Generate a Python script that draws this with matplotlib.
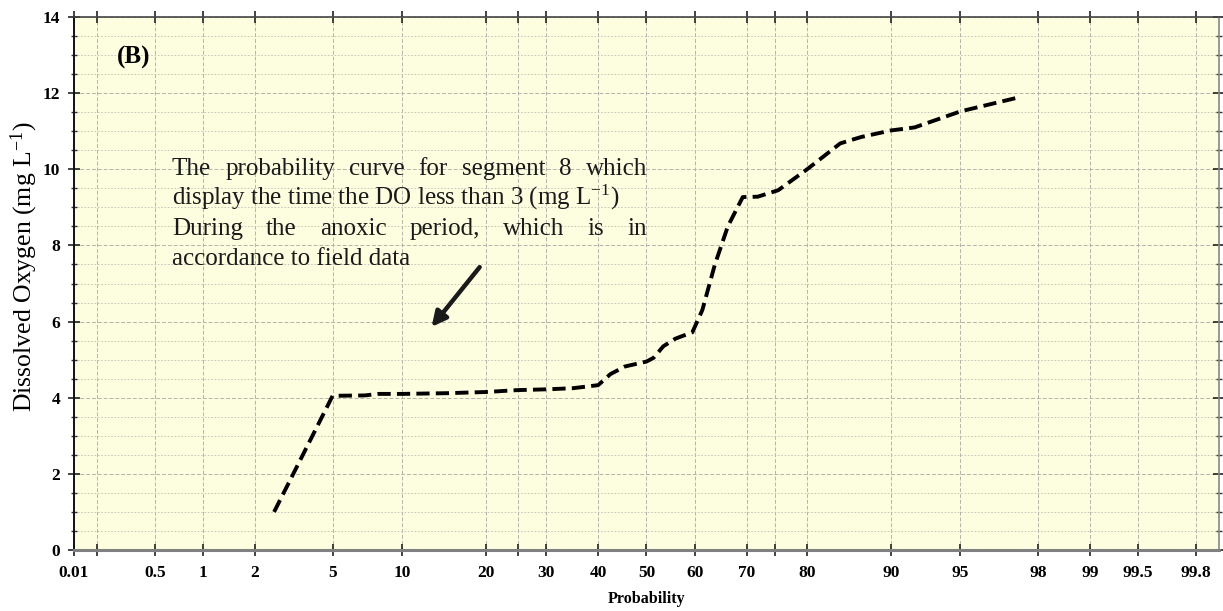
import math
import numpy as np
import matplotlib
matplotlib.use("Agg")
import matplotlib.pyplot as plt
from matplotlib.ticker import FixedLocator, FixedFormatter, MultipleLocator, NullFormatter

# ---------------- data ----------------
prob_pct = [2.55, 5.0, 7.0, 8.0, 10.0, 15.0, 20.0, 25.0, 30.0, 35.0, 40.0,
            42.5, 45.5, 50.0, 51.5, 53.5, 56.0, 59.5, 61.5, 64.0, 66.5, 69.3,
            72.0, 75.5, 80.0, 84.5, 87.0, 90.0, 92.0, 95.0, 97.4]
do_mgL = [1.0, 4.05, 4.06, 4.1, 4.1, 4.12, 4.15, 4.2, 4.22, 4.25, 4.33,
          4.62, 4.82, 4.95, 5.05, 5.35, 5.55, 5.72, 6.3, 7.5, 8.5, 9.27,
          9.28, 9.45, 10.0, 10.68, 10.85, 11.02, 11.1, 11.52, 11.88]

x_tick_pos = [0.13499, 0.2, 0.5, 1, 2, 5, 10, 20, 25, 30, 40, 50, 60, 70, 75,
              80, 90, 95, 98, 99, 99.5, 99.8]
x_tick_labels = ["0.01", "", "0.5", "1", "2", "5", "10", "20", "", "30", "40",
                 "50", "60", "70", "", "80", "90", "95", "98", "99", "99.5", "99.8"]
y_ticks = [0, 2, 4, 6, 8, 10, 12, 14]

note_lines = [
    ("The probability curve for segment 8 which", True),
    ("display the time the DO less than 3 (mg L$^{-1}$)", False),
    ("During the anoxic period, which is in", True),
    ("accordance to field data", False),
]

# ---------------- normal probability scale ----------------
_a = [-3.969683028665376e+01, 2.209460984245205e+02, -2.759285104469687e+02,
      1.383577518672690e+02, -3.066479806614716e+01, 2.506628277459239e+00]
_b = [-5.447609879822406e+01, 1.615858368580409e+02, -1.556989798598866e+02,
      6.680131188771972e+01, -1.328068155288572e+01]
_c = [-7.784894002430293e-03, -3.223964580411365e-01, -2.400758277161838e+00,
      -2.549732539343734e+00, 4.374664141464968e+00, 2.938163982698783e+00]
_d = [7.784695709041462e-03, 3.224671290700398e-01, 2.445134137142996e+00,
      3.754408661907416e+00]


def _ppf1(p):
    p = min(max(p, 1e-12), 1 - 1e-12)
    plow = 0.02425
    if p < plow:
        q = math.sqrt(-2 * math.log(p))
        return (((((_c[0]*q+_c[1])*q+_c[2])*q+_c[3])*q+_c[4])*q+_c[5]) / \
               ((((_d[0]*q+_d[1])*q+_d[2])*q+_d[3])*q+1)
    if p > 1 - plow:
        q = math.sqrt(-2 * math.log(1 - p))
        return -(((((_c[0]*q+_c[1])*q+_c[2])*q+_c[3])*q+_c[4])*q+_c[5]) / \
                ((((_d[0]*q+_d[1])*q+_d[2])*q+_d[3])*q+1)
    q = p - 0.5
    r = q * q
    return (((((_a[0]*r+_a[1])*r+_a[2])*r+_a[3])*r+_a[4])*r+_a[5])*q / \
           (((((_b[0]*r+_b[1])*r+_b[2])*r+_b[3])*r+_b[4])*r+1)


_ppf_v = np.vectorize(_ppf1, otypes=[float])
_erf_v = np.vectorize(math.erf, otypes=[float])


def forward(pct):
    return _ppf_v(np.asarray(pct, dtype=float) / 100.0)


def inverse(z):
    return 50.0 * (1.0 + _erf_v(np.asarray(z, dtype=float) / math.sqrt(2.0)))


# ---------------- style ----------------
plt.rcParams["font.family"] = ["Liberation Serif", "DejaVu Serif"]
plt.rcParams["mathtext.fontset"] = "custom"
plt.rcParams["mathtext.rm"] = "Liberation Serif"
plt.rcParams["mathtext.it"] = "Liberation Serif:italic"
plt.rcParams["mathtext.bf"] = "Liberation Serif:bold"

W, H = 1223, 611
fig = plt.figure(figsize=(W / 100, H / 100), dpi=100)
ax_l, ax_r, ax_t, ax_b = 74, 1219, 17, 550
ax = fig.add_axes([ax_l / W, 1 - ax_b / H, (ax_r - ax_l) / W, (ax_b - ax_t) / H])
ax.set_facecolor("#fdfde0")

ax.set_xscale("function", functions=(forward, inverse))
ax.set_xlim(inverse(-3.0), inverse(3.0))
ax.set_ylim(0, 14)

ax.xaxis.set_major_locator(FixedLocator(x_tick_pos))
ax.xaxis.set_major_formatter(FixedFormatter(x_tick_labels))
ax.xaxis.set_minor_locator(FixedLocator([]))
ax.yaxis.set_major_locator(FixedLocator(y_ticks))
ax.yaxis.set_minor_locator(MultipleLocator(0.5))
ax.yaxis.set_minor_formatter(NullFormatter())

ax.grid(True, which="major", axis="x", color="#b4b4aa", lw=0.7,
        linestyle=(0, (4, 2)))
ax.grid(True, which="major", axis="y", color="#b4b4aa", lw=0.7,
        linestyle=(0, (4, 2)))
ax.grid(True, which="minor", axis="y", color="#c0c0b6", lw=0.6,
        linestyle=(0, (2, 2)))
ax.set_axisbelow(True)

for lab in ax.get_xticklabels() + ax.get_yticklabels():
    lab.set_fontweight("bold")
ax.tick_params(axis="both", which="major", direction="inout", length=8,
               width=1.2, labelsize=12.5, color="#222222")
ax.tick_params(axis="x", which="major", pad=7, top=True)
ax.tick_params(axis="y", which="major", pad=6, right=True)
ax.tick_params(axis="y", which="minor", direction="inout", length=5,
               width=1.0, right=True, color="#333333")

ax.spines["left"].set_color("#111111")
ax.spines["left"].set_linewidth(1.4)
ax.spines["bottom"].set_color("#808080")
ax.spines["bottom"].set_linewidth(2.2)
ax.spines["top"].set_color("#444444")
ax.spines["top"].set_linewidth(1.2)
ax.spines["right"].set_color("#888888")
ax.spines["right"].set_linewidth(1.2)

# ---------------- curve ----------------
ax.plot(prob_pct, do_mgL, color="black", lw=2.8,
        linestyle=(0, (3.4, 1.6)), solid_capstyle="butt")

# ---------------- labels ----------------
ax.set_xlabel("Probability", fontsize=11.5, fontweight="bold", labelpad=7)
fig.text(24 / W, 1 - 267 / H, "Dissolved Oxygen (mg L$^{-1}$)", rotation=90,
         ha="center", va="center", fontsize=18.5)

ax.text((117 - ax_l) / (ax_r - ax_l), (ax_b - 57) / (ax_b - ax_t), "(B)",
        transform=ax.transAxes, fontsize=18, fontweight="bold",
        ha="left", va="center")

# justified annotation text
fig.canvas.draw()
renderer = fig.canvas.get_renderer()
note_fs = 18
x_left_px, x_right_px = 172, 647
base_px = [175, 205, 235, 265]
axw = ax_r - ax_l
axh = ax_b - ax_t
for (line, justify), bpx in zip(note_lines, base_px):
    yfrac = (ax_b - bpx) / axh
    if not justify:
        ax.text((x_left_px - ax_l) / axw, yfrac, line, transform=ax.transAxes,
                fontsize=note_fs, ha="left", va="baseline", color="#1a1a1a")
        continue
    words = line.split(" ")
    objs = []
    widths = []
    for w in words:
        t = ax.text(0, yfrac, w, transform=ax.transAxes, fontsize=note_fs,
                    ha="left", va="baseline", color="#1a1a1a")
        objs.append(t)
        widths.append(t.get_window_extent(renderer).width)
    total = sum(widths)
    gap = ((x_right_px - x_left_px) - total) / (len(words) - 1)
    x = x_left_px
    for t, wd in zip(objs, widths):
        t.set_x((x - ax_l) / axw)
        x += wd + gap

ax.annotate("", xy=(13.0, 5.86), xytext=(19.1, 7.43),
            arrowprops=dict(arrowstyle="-|>", lw=3.2, color="#1a1a1a",
                            mutation_scale=22, shrinkA=0, shrinkB=0))

fig.savefig("out.png", dpi=100)
